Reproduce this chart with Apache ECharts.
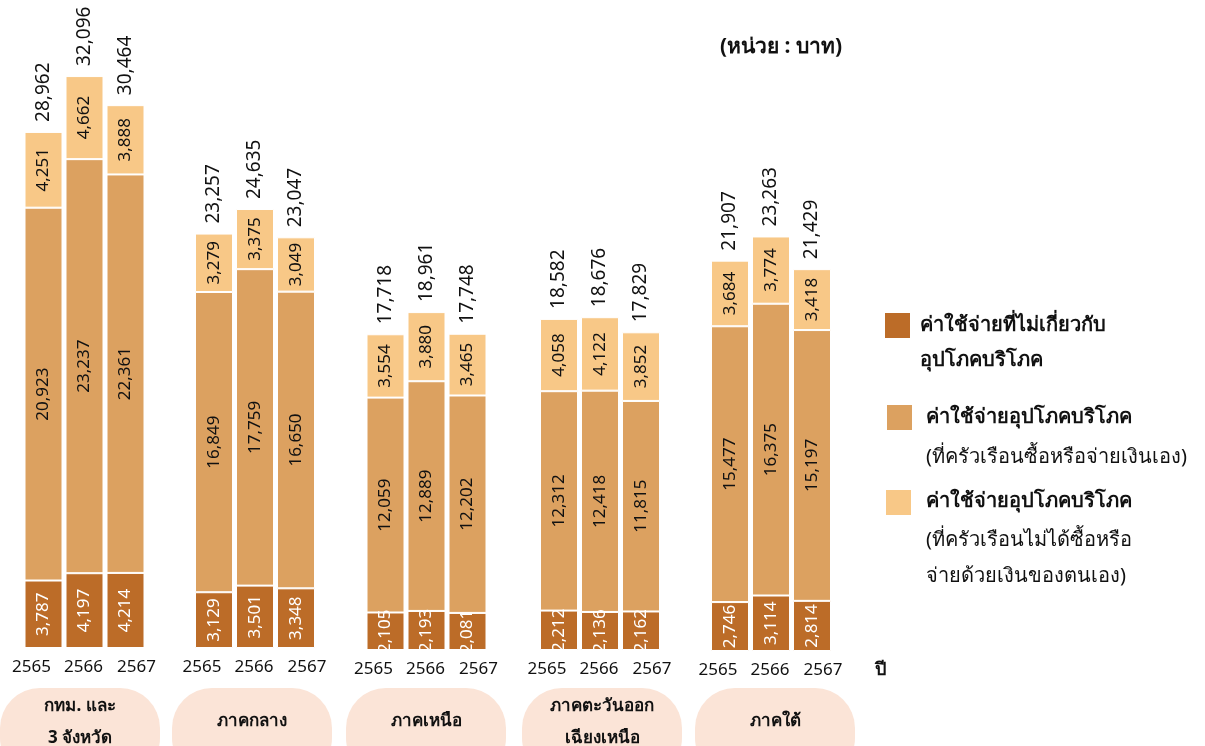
<!DOCTYPE html>
<html>
<head>
<meta charset="utf-8">
<script src="https://cdn.jsdelivr.net/npm/echarts@6/dist/echarts.min.js"></script>
<style>
  html, body { margin: 0; padding: 0; background: #ffffff; }
  #chart { width: 1205px; height: 746px; }
</style>
</head>
<body>
<div id="chart"></div>
<script>
// ─── data ───
const regions = ['กทม. และ\n3 จังหวัด', 'ภาคกลาง', 'ภาคเหนือ', 'ภาคตะวันออก\nเฉียงเหนือ', 'ภาคใต้'];
const years = ['2565', '2566', '2567'];
const nonConsumption = [[3787, 4197, 4214], [3129, 3501, 3348], [2105, 2193, 2081], [2212, 2136, 2162], [2746, 3114, 2814]];
const consumptionBought = [[20923, 23237, 22361], [16849, 17759, 16650], [12059, 12889, 12202], [12312, 12418, 11815], [15477, 16375, 15197]];
const consumptionNotBought = [[4251, 4662, 3888], [3279, 3375, 3049], [3554, 3880, 3465], [4058, 4122, 3852], [3684, 3774, 3418]];
const totals = [[28962, 32096, 30464], [23257, 24635, 23047], [17718, 18961, 17748], [18582, 18676, 17829], [21907, 23263, 21429]];
const seriesNames = [
  'ค่าใช้จ่ายที่ไม่เกี่ยวกับอุปโภคบริโภค',
  'ค่าใช้จ่ายอุปโภคบริโภค (ที่ครัวเรือนซื้อหรือจ่ายเงินเอง)',
  'ค่าใช้จ่ายอุปโภคบริโภค (ที่ครัวเรือนไม่ได้ซื้อหรือจ่ายด้วยเงินของตนเอง)',
];

// ─── style ───
const DARK = '#bc6c28';
const MID = '#dca160';
const LIGHT = '#f8c887';
const PILL = '#fbe4d7';
const TEXT = '#111111';
const FONT = "Tahoma, 'Noto Sans', 'DejaVu Sans', sans-serif";
const fmt = (v) => v.toLocaleString('en-US');

// layout per group (px)
const gridLeft = [23, 193.5, 365, 538.5, 709.5];
const gridBottomY = [648, 648, 650, 650, 651];
const pillX = [0, 172, 346, 522, 695];
const Y_MAX = 36000;
const PLOT_H = 641.5;

// year labels are spread a little wider than the bars
const yearStyle = { color: TEXT, fontFamily: FONT, fontSize: 17 };
const yearRich = {
  l: { ...yearStyle, padding: [0, 24, 0, 0] },
  m: { ...yearStyle, padding: [0, 2, 0, 0] },
  r: { ...yearStyle, padding: [0, 0, 0, 22] },
};

const grids = [], xAxes = [], yAxes = [], series = [];
regions.forEach((r, g) => {
  grids.push({ left: gridLeft[g], width: 123, top: gridBottomY[g] - PLOT_H, height: PLOT_H });
  xAxes.push({
    gridIndex: g, type: 'category', data: years,
    axisLine: { show: false }, axisTick: { show: false },
    axisLabel: {
      interval: 0, margin: 11, ...yearStyle,
      formatter: (v, i) => `{${['l', 'm', 'r'][i]}|${v}}`,
      rich: yearRich,
    },
  });
  yAxes.push({ gridIndex: g, type: 'value', min: 0, max: Y_MAX, show: false, splitLine: { show: false } });

  const segs = [nonConsumption[g], consumptionBought[g], consumptionNotBought[g]];
  const colors = [DARK, MID, LIGHT];
  segs.forEach((d, s) => {
    series.push({
      name: seriesNames[s], type: 'bar', stack: 'g' + g,
      xAxisIndex: g, yAxisIndex: g, barWidth: 38,
      data: d,
      itemStyle: { color: colors[s], borderColor: '#ffffff', borderWidth: 1 },
      label: {
        show: true, position: 'inside', rotate: 90,
        fontFamily: FONT, fontSize: 17,
        color: s === 0 ? '#ffffff' : TEXT,
        formatter: (p) => fmt(p.value),
      },
      animation: false,
    });
  });
  // total label sitting on top of the stack
  series.push({
    name: 'รวม', type: 'bar', stack: 'g' + g,
    xAxisIndex: g, yAxisIndex: g, barWidth: 38,
    data: totals[g].map(() => 0),
    itemStyle: { color: 'transparent' },
    label: {
      show: true, position: 'top', rotate: 90, distance: 10,
      align: 'left', verticalAlign: 'middle',
      fontFamily: FONT, fontSize: 19, color: TEXT,
      formatter: (p) => fmt(totals[g][p.dataIndex]),
    },
    animation: false,
  });
});

// region pills + legend + notes
const graphic = [];
regions.forEach((r, g) => {
  graphic.push({
    type: 'rect', left: pillX[g], top: 688,
    shape: { width: 160, height: 90, r: 40 },
    style: { fill: PILL }, z: 0,
  });
  graphic.push({
    type: 'text', x: pillX[g] + 80, y: r.includes('\n') ? 722 : 721,
    style: {
      text: r, fill: TEXT, font: `bold 17px ${FONT}`,
      align: 'center', verticalAlign: 'middle', lineHeight: 32,
    }, z: 1,
  });
});

const legendItems = [
  { color: DARK, x: 885, iconY: 313, tx: 920, lines: [['ค่าใช้จ่ายที่ไม่เกี่ยวกับ', 325, true], ['อุปโภคบริโภค', 360, true]] },
  { color: MID, x: 887, iconY: 405, tx: 926, lines: [['ค่าใช้จ่ายอุปโภคบริโภค', 417, true], ['(ที่ครัวเรือนซื้อหรือจ่ายเงินเอง)', 457, false]] },
  { color: LIGHT, x: 886, iconY: 490, tx: 926, lines: [['ค่าใช้จ่ายอุปโภคบริโภค', 501, true], ['(ที่ครัวเรือนไม่ได้ซื้อหรือ', 540, false], ['จ่ายด้วยเงินของตนเอง)', 576, false]] },
];
legendItems.forEach((it) => {
  graphic.push({ type: 'rect', left: it.x, top: it.iconY, shape: { width: 25, height: 25 }, style: { fill: it.color } });
  it.lines.forEach(([t, y, bold]) => {
    graphic.push({
      type: 'text', x: it.tx, y,
      style: { text: t, fill: TEXT, font: `${bold ? 'bold ' : ''}20px ${FONT}`, verticalAlign: 'middle' },
    });
  });
});
graphic.push({
  type: 'text', x: 781, y: 47,
  style: { text: '(หน่วย : บาท)', fill: TEXT, font: `bold 21px ${FONT}`, align: 'center', verticalAlign: 'middle' },
});
graphic.push({
  type: 'text', x: 875, y: 670,
  style: { text: 'ปี', fill: TEXT, font: `bold 18px ${FONT}`, verticalAlign: 'middle' },
});

const chart = echarts.init(document.getElementById('chart'), null, { renderer: 'canvas' });
chart.setOption({
  backgroundColor: '#ffffff',
  animation: false,
  grid: grids,
  xAxis: xAxes,
  yAxis: yAxes,
  series,
  graphic,
});
</script>
</body>
</html>
